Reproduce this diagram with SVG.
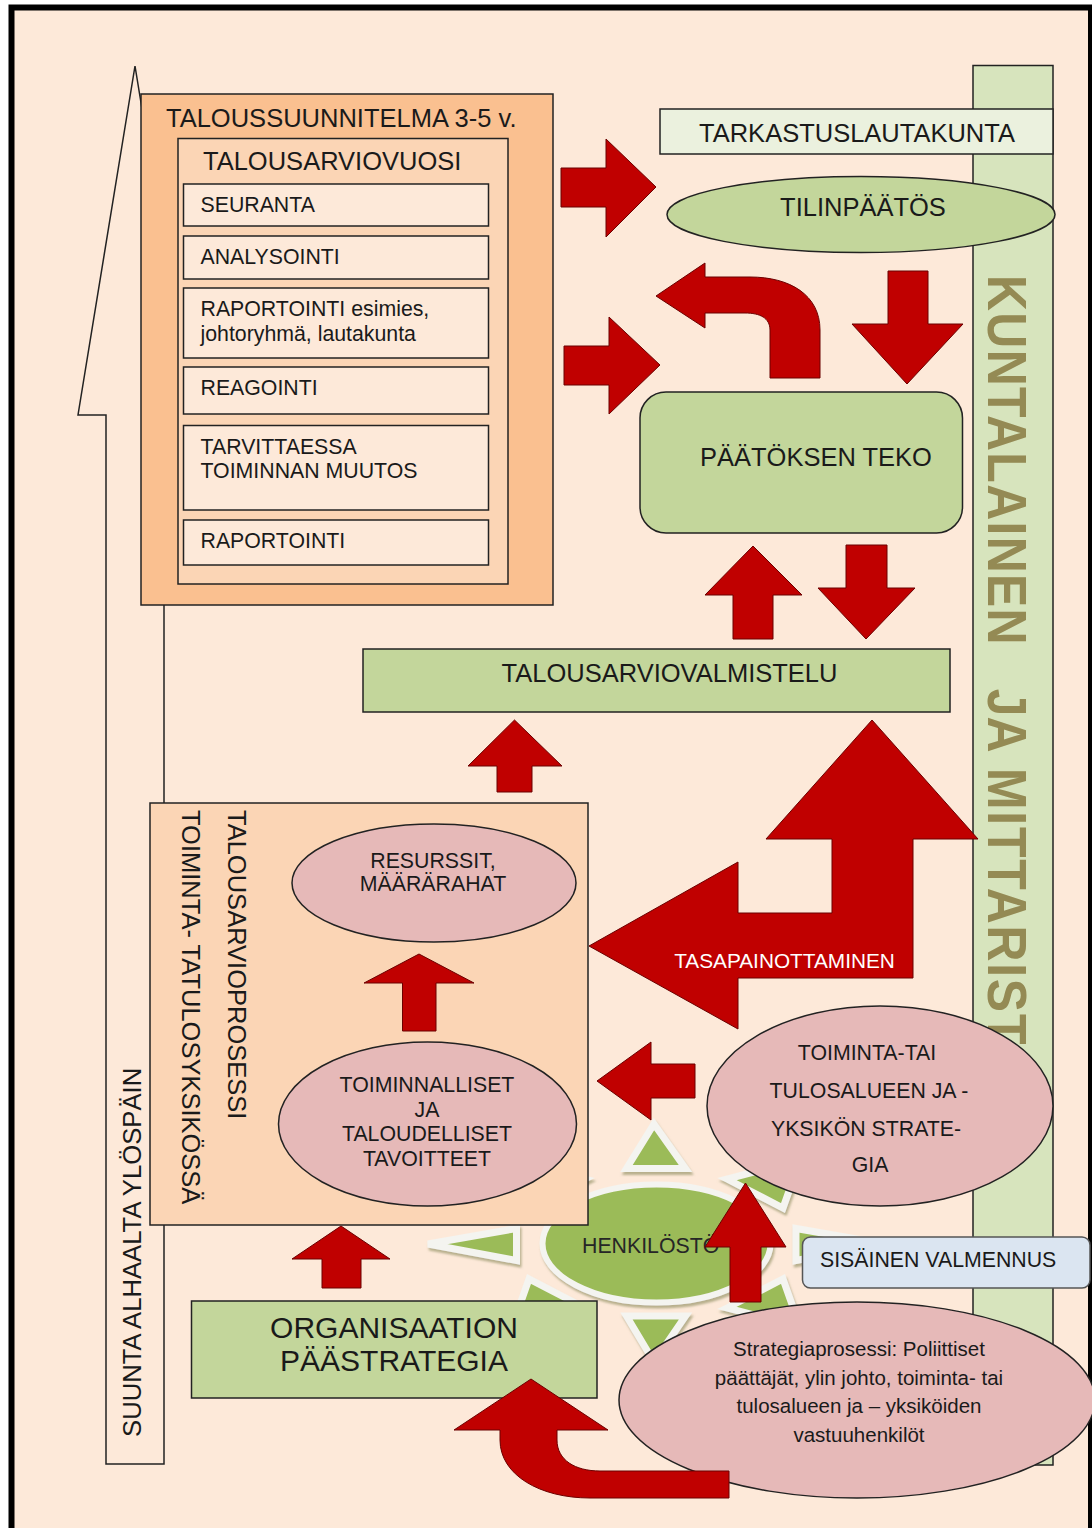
<svg xmlns="http://www.w3.org/2000/svg" width="1092" height="1528" viewBox="0 0 1092 1528">
<defs>
<style>
text{font-family:"Liberation Sans",Arial,sans-serif;fill:#1a1a1a}
.b{stroke:#222;stroke-width:1.5}
.arr{fill:#c00000;stroke:#6b0000;stroke-width:1}
.t25{font-size:25.5px}
.t21{font-size:21.3px}
.mid{text-anchor:middle}
.ray{fill:#9bbb59;stroke:#f4f4f0;stroke-width:7}
.sub{fill:#fde9d9}
.grn{fill:#c3d69b}
.pink{fill:#e6b9b8}
</style>
<filter id="sh" x="-20%" y="-20%" width="140%" height="140%">
<feDropShadow dx="1.5" dy="3" stdDeviation="1" flood-color="#8a8a5c" flood-opacity="0.6"/>
</filter>
</defs>
<rect x="0" y="0" width="1092" height="1528" fill="#ffffff"/>
<rect x="11.5" y="7.5" width="1079.5" height="1540" fill="#fde9d9" stroke="#000" stroke-width="6"/>

<g id="direction-arrow">
<polygon points="135,66 192,415 164,415 164,1464 106,1464 106,415 78,415" fill="#fde9d9" class="b"/>
<text transform="translate(141,1437) rotate(-90)" style="font-size:25.7px">SUUNTA ALHAALTA YLÖSPÄIN</text>
</g>

<g id="kuntalainen">
<rect x="973" y="65.5" width="80" height="1399.5" fill="#d7e4bd" class="b"/>
<text transform="translate(988,275) rotate(90) scale(0.89,1)" style="font-size:56px;font-weight:bold;fill:#948a54"><tspan x="0" style="letter-spacing:1.5px">KUNTALAINEN</tspan><tspan x="465">JA</tspan><tspan x="554" style="letter-spacing:2px">MITTARISTO</tspan></text>
</g>

<g id="taloussuunnitelma">
<rect x="141" y="94" width="412" height="511" fill="#fac090" class="b"/>
<text x="166" y="126.5" class="t25">TALOUSSUUNNITELMA 3-5 v.</text>
<g id="talousarviovuosi">
<rect x="178" y="138.5" width="330" height="445.5" fill="#fbd5b5" class="b"/>
<text x="203" y="170" class="t25">TALOUSARVIOVUOSI</text>
</g>
<g id="seuranta"><rect x="183.5" y="184" width="305" height="42" class="sub b"/><text x="200.5" y="212" class="t21">SEURANTA</text></g>
<g id="analysointi"><rect x="183.5" y="236" width="305" height="43" class="sub b"/><text x="200.5" y="264" class="t21">ANALYSOINTI</text></g>
<g id="raportointi1"><rect x="183.5" y="288" width="305" height="70" class="sub b"/><text x="200.5" y="316" class="t21">RAPORTOINTI esimies,</text><text x="200.5" y="341" class="t21">johtoryhmä, lautakunta</text></g>
<g id="reagointi"><rect x="183.5" y="367" width="305" height="47" class="sub b"/><text x="200.5" y="395" class="t21">REAGOINTI</text></g>
<g id="tarvittaessa"><rect x="183.5" y="425.5" width="305" height="84.5" class="sub b"/><text x="200.5" y="454" class="t21">TARVITTAESSA</text><text x="200.5" y="478" class="t21">TOIMINNAN MUUTOS</text></g>
<g id="raportointi2"><rect x="183.5" y="520" width="305" height="45" class="sub b"/><text x="200.5" y="548" class="t21">RAPORTOINTI</text></g>
</g>

<g id="tarkastuslautakunta">
<rect x="660" y="109" width="393" height="45" fill="#ebf1de" class="b"/>
<text x="857" y="142" class="t25 mid">TARKASTUSLAUTAKUNTA</text>
</g>
<g id="tilinpaatos">
<ellipse cx="861" cy="214.5" rx="194" ry="38" class="grn b"/>
<text x="863" y="216" class="t25 mid">TILINPÄÄTÖS</text>
</g>
<g id="paatoksen-teko">
<rect x="640" y="392" width="322.5" height="141" rx="26" class="grn b"/>
<text x="700" y="466" class="t25">PÄÄTÖKSEN TEKO</text>
</g>
<g id="talousarviovalmistelu">
<rect x="363" y="649" width="587" height="63" class="grn b"/>
<text x="669.5" y="682" class="t25 mid">TALOUSARVIOVALMISTELU</text>
</g>

<g id="henkilosto">
<g filter="url(#sh)">
<polygon class="ray" points="654,1124 626.5,1168.5 685.5,1168.5"/>
<polygon class="ray" points="654,1362 626.5,1316 685.5,1316"/>
<polygon class="ray" points="428,1244 516.5,1228.5 516.5,1260.5"/>
<polygon class="ray" points="885,1244 796,1228.5 796,1260.5"/>
<polygon class="ray" points="727,1179 783,1208 800,1160"/>
<polygon class="ray" points="727,1308 783,1279 800,1327"/>
<polygon class="ray" points="585,1308 529,1279 512,1327"/>
<polygon class="ray" points="585,1179 529,1208 512,1160"/>
<ellipse cx="656.5" cy="1243.5" rx="114" ry="59" fill="#9bbb59" stroke="#f4f4f0" stroke-width="6"/>
</g>
<text x="582" y="1253" class="t21" style="fill:#262626">HENKILÖSTÖ</text>
</g>

<g id="talousarvioprosessi">
<rect x="150" y="803" width="438" height="422" fill="#fbd5b5" class="b"/>
<text transform="translate(228,810) rotate(90)" class="t25">TALOUSARVIOPROSESSI</text>
<text transform="translate(182,810) rotate(90)" class="t25">TOIMINTA- TATULOSYKSIKÖSSÄ</text>
</g>
<g id="resurssit">
<ellipse cx="434" cy="883" rx="142" ry="59" class="pink b"/>
<text x="433" y="868" class="t21 mid">RESURSSIT,</text>
<text x="433" y="891" class="t21 mid">MÄÄRÄRAHAT</text>
</g>
<g id="tavoitteet">
<ellipse cx="427.5" cy="1124" rx="149" ry="82" class="pink b"/>
<text x="427" y="1092" class="t21 mid">TOIMINNALLISET</text>
<text x="427" y="1117" class="t21 mid">JA</text>
<text x="427" y="1141" class="t21 mid">TALOUDELLISET</text>
<text x="427" y="1166" class="t21 mid">TAVOITTEET</text>
</g>
<g id="organisaatio">
<rect x="191.5" y="1301" width="405.5" height="97" class="grn b"/>
<text x="394" y="1338" class="mid" style="font-size:30px">ORGANISAATION</text>
<text x="394" y="1371" class="mid" style="font-size:30px">PÄÄSTRATEGIA</text>
</g>
<g id="yksikon-strategia">
<ellipse cx="880" cy="1106" rx="173" ry="100" class="pink b"/>
<text x="867" y="1060" class="t21 mid">TOIMINTA-TAI</text>
<text x="869" y="1098" class="t21 mid">TULOSALUEEN JA -</text>
<text x="866" y="1136" class="t21 mid">YKSIKÖN STRATE-</text>
<text x="870" y="1172" class="t21 mid">GIA</text>
</g>
<g id="strategiaprosessi">
<ellipse cx="857" cy="1400" rx="238" ry="98" class="pink b"/>
<text x="859" y="1356" class="mid" style="font-size:20.5px">Strategiaprosessi: Poliittiset</text>
<text x="859" y="1385" class="mid" style="font-size:20.5px">päättäjät, ylin johto, toiminta- tai</text>
<text x="859" y="1413" class="mid" style="font-size:20.5px">tulosalueen ja – yksiköiden</text>
<text x="859" y="1442" class="mid" style="font-size:20.5px">vastuuhenkilöt</text>
</g>
<g id="sisainen-valmennus">
<rect x="802.5" y="1237" width="287.5" height="51" rx="8" fill="#dbe5f1" stroke="#555" stroke-width="1.5"/>
<text x="820" y="1267" class="t21">SISÄINEN VALMENNUS</text>
</g>

<g id="connectors">
<polygon class="arr" points="561,168 606,168 606,139 656,187 606,237 606,207 561,207"/>
<polygon class="arr" points="564,346 609,346 609,317 660,365 609,414 609,385 564,385"/>
<path class="arr" d="M770,378 L770,330 C770,318 760,313 745,313 L705,313 L705,328 L656,296 L705,263 L705,277 L750,277 C790,277 820,295 820,330 L820,378 Z"/>
<polygon class="arr" points="888,271 928,271 928,324 963,324 907,384 852,324 888,324"/>
<polygon class="arr" points="733,639 733,595 705,595 753,546 802,595 773,595 773,639"/>
<polygon class="arr" points="846,545 887,545 887,588 915,588 866,639 818,588 846,588"/>
<polygon class="arr" points="497,792 497,766 468,766 514.5,720 562,766 532,766 532,792"/>
<g id="tasapainottaminen">
<polygon class="arr" points="872,720 978,839 913,839 913,978 738,978 738,1029 589,946 738,862 738,913 832,913 832,839 766,839"/>
<text x="784.5" y="968" class="mid" style="font-size:20.8px;fill:#ffffff">TASAPAINOTTAMINEN</text>
</g>
<polygon class="arr" points="402.5,1031 402.5,983 364,983 419,954 474,983 436,983 436,1031"/>
<polygon class="arr" points="695,1064 651,1064 651,1042 597,1081 651,1120 651,1098 695,1098"/>
<polygon class="arr" points="730,1302 730,1247 705,1247 745.5,1183 786,1247 761,1247 761,1302"/>
<polygon class="arr" points="322,1288 322,1259 292,1259 341,1226 390,1259 361,1259 361,1288"/>
<path class="arr" d="M729,1471 L600,1471 C575,1471 557,1460 557,1440 L557,1430 L608,1430 L531,1379 L454,1430 L500,1430 L500,1440 C500,1475 540,1498 590,1498 L729,1498 Z"/>
</g>
</svg>
